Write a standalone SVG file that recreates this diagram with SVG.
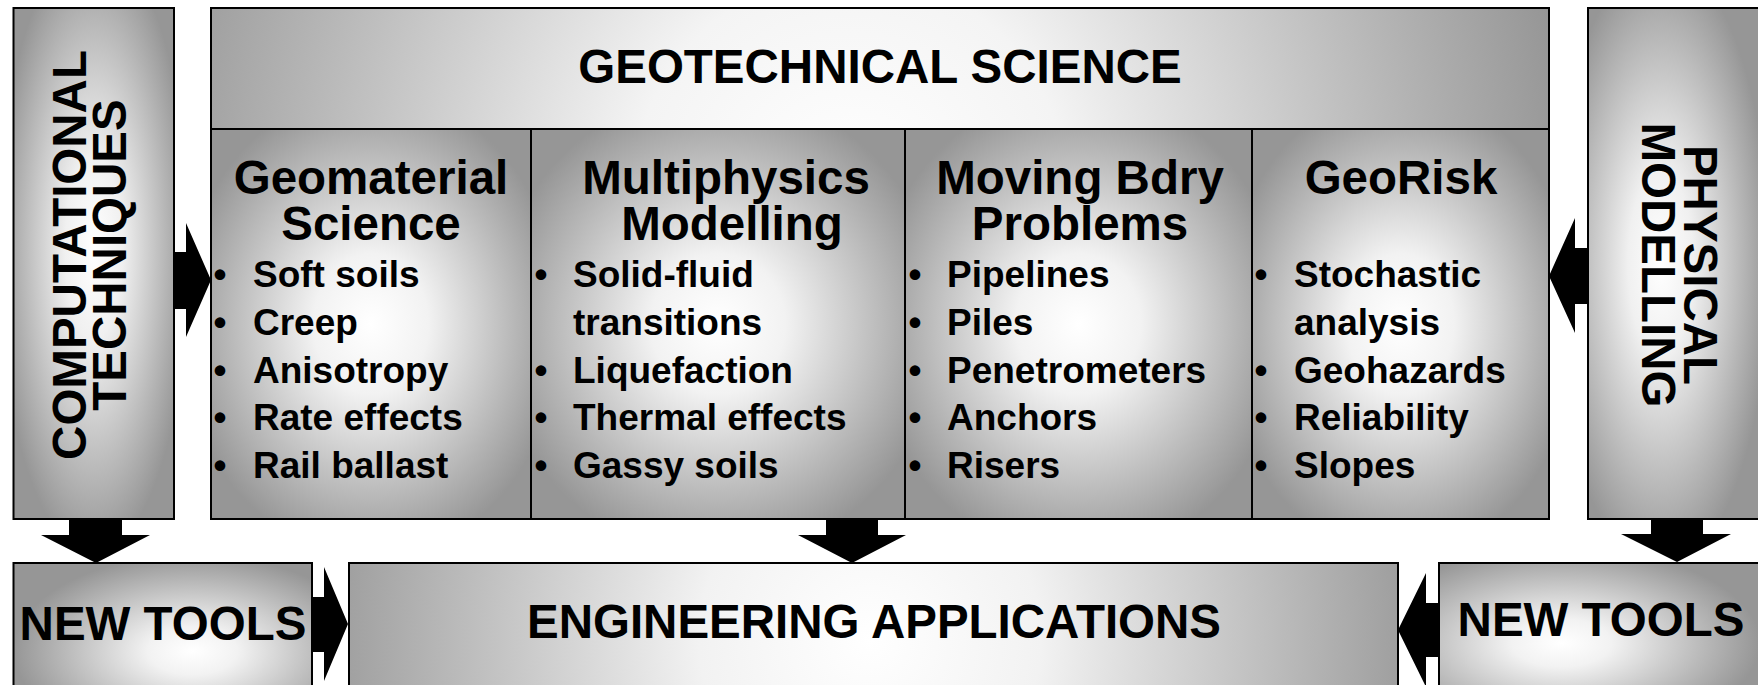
<svg xmlns="http://www.w3.org/2000/svg" width="1758" height="685" viewBox="0 0 1758 685">
  <style>
    .t { font-family: "Liberation Sans", Arial, sans-serif; font-weight: bold; fill: #000; }
    .big { font-size: 47.5px; }
    .item { font-size: 37px; }
    .mid { text-anchor: middle; }
    .box { stroke: #000; stroke-width: 2; }
    .arrow { fill: #000; stroke: none; }
  </style>
  <defs>
    <!-- centre-lit grey shading used by the panels -->
    <radialGradient id="shade" cx="0.5" cy="0.5" r="0.6">
      <stop offset="0" stop-color="#ffffff"/>
      <stop offset="0.3" stop-color="#f2f2f2"/>
      <stop offset="1" stop-color="#969696"/>
    </radialGradient>
    <radialGradient id="shadeTall" cx="0.5" cy="0.47" r="0.6">
      <stop offset="0" stop-color="#ffffff"/>
      <stop offset="0.3" stop-color="#f0f0f0"/>
      <stop offset="1" stop-color="#969696"/>
    </radialGradient>
    <radialGradient id="shadeRight" cx="0.4" cy="0.5" r="0.6">
      <stop offset="0" stop-color="#ffffff"/>
      <stop offset="0.3" stop-color="#f0f0f0"/>
      <stop offset="1" stop-color="#969696"/>
    </radialGradient>
    <radialGradient id="shadeHeader" gradientUnits="userSpaceOnUse" cx="850" cy="190" r="720">
      <stop offset="0" stop-color="#ffffff"/>
      <stop offset="0.3" stop-color="#f4f4f4"/>
      <stop offset="1" stop-color="#969696"/>
    </radialGradient>
    <radialGradient id="shadeEng" gradientUnits="userSpaceOnUse" cx="870" cy="640" r="570">
      <stop offset="0" stop-color="#ffffff"/>
      <stop offset="0.3" stop-color="#f2f2f2"/>
      <stop offset="1" stop-color="#969696"/>
    </radialGradient>
    <radialGradient id="shadeToolsL" cx="0.6" cy="0.55" r="0.6">
      <stop offset="0" stop-color="#ffffff"/>
      <stop offset="0.25" stop-color="#f2f2f2"/>
      <stop offset="1" stop-color="#969696"/>
    </radialGradient>
    <radialGradient id="shadeToolsR" cx="0.37" cy="0.5" r="0.6">
      <stop offset="0" stop-color="#ffffff"/>
      <stop offset="0.25" stop-color="#f2f2f2"/>
      <stop offset="1" stop-color="#969696"/>
    </radialGradient>
  </defs>

  <!-- left side panel -->
  <g id="computational">
    <rect class="box" x="13.5" y="8" width="160.5" height="511" fill="url(#shadeTall)"/>
    <text class="t big mid" transform="translate(86 255) rotate(-90)"><tspan x="0" y="0">COMPUTATIONAL</tspan><tspan x="0" y="40">TECHNIQUES</tspan></text>
  </g>

  <!-- right side panel -->
  <g id="physical">
    <rect class="box" x="1588" y="8" width="182" height="511" fill="url(#shadeRight)"/>
    <text class="t big mid" transform="translate(1684 265) rotate(90)"><tspan x="0" y="0">PHYSICAL</tspan><tspan x="0" y="42">MODELLING</tspan></text>
  </g>

  <!-- central block title -->
  <g id="geotechnical-science">
    <rect class="box" x="211" y="8" width="1338" height="121" fill="url(#shadeHeader)"/>
    <text class="t big mid" x="880" y="83">GEOTECHNICAL SCIENCE</text>
  </g>

  <!-- four research columns -->
  <g id="geomaterial-science">
    <rect class="box" x="211" y="129" width="320" height="390" fill="url(#shade)"/>
    <text class="t big mid"><tspan x="371" y="194">Geomaterial</tspan><tspan x="371" y="240">Science</tspan></text>
    <g class="t item">
      <text x="220" y="287" class="mid">•</text><text x="253" y="287">Soft soils</text>
      <text x="220" y="335" class="mid">•</text><text x="253" y="335">Creep</text>
      <text x="220" y="383" class="mid">•</text><text x="253" y="383">Anisotropy</text>
      <text x="220" y="430" class="mid">•</text><text x="253" y="430">Rate effects</text>
      <text x="220" y="478" class="mid">•</text><text x="253" y="478">Rail ballast</text>
    </g>
  </g>

  <g id="multiphysics-modelling">
    <rect class="box" x="531" y="129" width="374" height="390" fill="url(#shade)"/>
    <text class="t big mid"><tspan x="726" y="194">Multiphysics</tspan><tspan x="732" y="240">Modelling</tspan></text>
    <g class="t item">
      <text x="541" y="287" class="mid">•</text><text x="573" y="287">Solid-fluid</text>
      <text x="573" y="335">transitions</text>
      <text x="541" y="383" class="mid">•</text><text x="573" y="383">Liquefaction</text>
      <text x="541" y="430" class="mid">•</text><text x="573" y="430">Thermal effects</text>
      <text x="541" y="478" class="mid">•</text><text x="573" y="478">Gassy soils</text>
    </g>
  </g>

  <g id="moving-boundary-problems">
    <rect class="box" x="905" y="129" width="347" height="390" fill="url(#shade)"/>
    <text class="t big mid"><tspan x="1080" y="194">Moving Bdry</tspan><tspan x="1080" y="240">Problems</tspan></text>
    <g class="t item">
      <text x="915" y="287" class="mid">•</text><text x="947" y="287">Pipelines</text>
      <text x="915" y="335" class="mid">•</text><text x="947" y="335">Piles</text>
      <text x="915" y="383" class="mid">•</text><text x="947" y="383">Penetrometers</text>
      <text x="915" y="430" class="mid">•</text><text x="947" y="430">Anchors</text>
      <text x="915" y="478" class="mid">•</text><text x="947" y="478">Risers</text>
    </g>
  </g>

  <g id="georisk">
    <rect class="box" x="1252" y="129" width="297" height="390" fill="url(#shade)"/>
    <text class="t big mid" x="1401" y="194">GeoRisk</text>
    <g class="t item">
      <text x="1261" y="287" class="mid">•</text><text x="1294" y="287">Stochastic</text>
      <text x="1294" y="335">analysis</text>
      <text x="1261" y="383" class="mid">•</text><text x="1294" y="383">Geohazards</text>
      <text x="1261" y="430" class="mid">•</text><text x="1294" y="430">Reliability</text>
      <text x="1261" y="478" class="mid">•</text><text x="1294" y="478">Slopes</text>
    </g>
  </g>

  <!-- bottom row -->
  <g id="new-tools-left">
    <rect class="box" x="13.5" y="563" width="298.5" height="160" fill="url(#shadeToolsL)"/>
    <text class="t big mid" x="163" y="640">NEW TOOLS</text>
  </g>

  <g id="engineering-applications">
    <rect class="box" x="349" y="563" width="1049" height="160" fill="url(#shadeEng)"/>
    <text class="t big mid" x="874" y="638">ENGINEERING APPLICATIONS</text>
  </g>

  <g id="new-tools-right">
    <rect class="box" x="1439" y="563" width="331" height="160" fill="url(#shadeToolsR)"/>
    <text class="t big mid" x="1601" y="636">NEW TOOLS</text>
  </g>

  <!-- block arrows between panels -->
  <g id="connectors">
    <polygon class="arrow" points="174,252 186,252 186,223 211,280 186,337 186,309 174,309"/>
    <polygon class="arrow" points="1588,248 1575,248 1575,218 1549,276 1575,333 1575,304 1588,304"/>
    <polygon class="arrow" points="69,520 122,520 122,535 150,535 96,563 41,535 69,535"/>
    <polygon class="arrow" points="826,520 878,520 878,535 906,535 852,563 798,535 826,535"/>
    <polygon class="arrow" points="1651,520 1703,520 1703,534 1731,534 1677,562 1621,534 1651,534"/>
    <polygon class="arrow" points="312,597 324,597 324,567 348,624 324,681 324,652 312,652"/>
    <polygon class="arrow" points="1439,603 1426,603 1426,573 1398,630 1426,687 1426,657 1439,657"/>
  </g>
</svg>
